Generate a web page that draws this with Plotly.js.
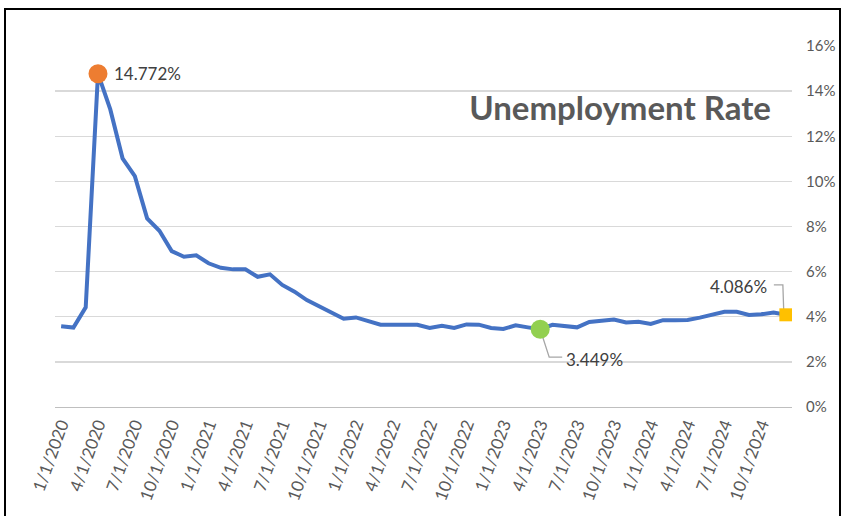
<!DOCTYPE html>
<html>
<head>
<meta charset="utf-8">
<script src="https://cdn.plot.ly/plotly-3.0.1.min.js"></script>
<style>
  html, body { margin: 0; padding: 0; background: #ffffff; width: 842px; height: 516px; overflow: hidden; }
  #frame { position: absolute; left: 4px; top: 8px; width: 837px; height: 600px; border: 2px solid #000; box-sizing: border-box; }
  #chart { position: absolute; left: 0; top: 0; width: 842px; height: 516px; }
</style>
</head>
<body>
<div id="frame"></div>
<div id="chart"></div>
<script>
// ---- data ----
const years = [2020, 2021, 2022, 2023, 2024];
const months = [];
years.forEach(function (y) { for (let m = 1; m <= 12; m++) months.push(m + '/1/' + y); });

const rates = [
  3.58, 3.52, 4.42, 14.772, 13.19, 11.02, 10.23, 8.36, 7.81, 6.91, 6.66, 6.72,
  6.37, 6.17, 6.10, 6.10, 5.77, 5.88, 5.41, 5.11, 4.74, 4.47, 4.18, 3.91,
  3.97, 3.82, 3.65, 3.64, 3.62, 3.64, 3.50, 3.60, 3.50, 3.66, 3.65, 3.50,
  3.46, 3.62, 3.53, 3.449, 3.64, 3.60, 3.53, 3.77, 3.81, 3.88, 3.75, 3.78,
  3.68, 3.85, 3.85, 3.86, 3.96, 4.11, 4.22, 4.22, 4.08, 4.11, 4.19, 4.086
];

const tickLabels = months.filter(function (d, i) { return i % 3 === 0; });
const titleText = 'Unemployment Rate';

// ---- highlighted points (from the data) ----
const iMax = rates.indexOf(Math.max.apply(null, rates));
const iMin = rates.indexOf(Math.min.apply(null, rates));
const iLast = rates.length - 1;

const boundaryVals = [];
for (let b = -0.5; b <= months.length - 0.5; b += 3) boundaryVals.push(b);

const fmt = function (v) { return v.toFixed(3) + '%'; };
const labelFont = { family: 'Lato, "Open Sans", sans-serif', size: 17, color: '#404040' };
const clear = 'rgba(0,0,0,0)';

const traces = [
  { x: months, y: rates, type: 'scatter', mode: 'lines',
    line: { color: '#4472C4', width: 4 }, hoverinfo: 'skip', showlegend: false },
  { x: [months[iMax]], y: [rates[iMax]], type: 'scatter', mode: 'markers',
    marker: { color: '#ED7D31', size: 19, symbol: 'circle' }, showlegend: false },
  { x: [months[iMin]], y: [rates[iMin]], type: 'scatter', mode: 'markers',
    marker: { color: '#92D050', size: 19, symbol: 'circle' }, showlegend: false },
  { x: [months[iLast]], y: [rates[iLast]], type: 'scatter', mode: 'markers',
    marker: { color: '#FFC000', size: 13, symbol: 'square' }, showlegend: false }
];

const layout = {
  width: 842, height: 516,
  margin: { l: 55, r: 50, t: 46, b: 109 },
  paper_bgcolor: clear, plot_bgcolor: clear,
  font: { family: 'Lato, "Open Sans", sans-serif', color: '#595959' },
  showlegend: false,
  title: {
    text: '<b>' + titleText + '</b>',
    font: { family: 'Lato, "Open Sans", sans-serif', size: 33, color: '#595959' },
    x: 771 / 842, xanchor: 'right', xref: 'container',
    y: 1 - 108 / 516, yanchor: 'middle', yref: 'container'
  },
  xaxis: {
    type: 'category', range: [-0.5, months.length - 0.5],
    tickmode: 'array', tickvals: tickLabels, ticktext: tickLabels,
    tickangle: -70, ticks: '', showgrid: false, zeroline: false,
    showline: true, linecolor: '#BFBFBF', linewidth: 1,
    tickfont: { size: 17, color: '#595959' }, fixedrange: true
  },
  xaxis2: {
    overlaying: 'x', anchor: 'y', type: 'linear',
    range: [-0.5, months.length - 0.5],
    tickmode: 'array', tickvals: boundaryVals,
    ticks: 'outside', ticklen: 5, tickcolor: '#BFBFBF', tickwidth: 1,
    showticklabels: false, showgrid: false, gridcolor: clear,
    zeroline: false, zerolinecolor: clear, showline: false
  },
  yaxis: {
    side: 'right', range: [0, 16], dtick: 2, tick0: 0, ticksuffix: '%',
    showgrid: true, gridcolor: '#D9D9D9', gridwidth: 1.3,
    zeroline: false, showline: false, ticks: '',
    ticklabelstandoff: 13,
    tickfont: { size: 15, color: '#595959' }, fixedrange: true
  },
  shapes: [
    { type: 'path', layer: 'below', xref: 'x', yref: 'y',
      xsizemode: 'pixel', ysizemode: 'pixel',
      xanchor: months[iMin], yanchor: rates[iMin],
      path: 'M0,0 L9,-28 L22,-28',
      line: { color: '#A6A6A6', width: 1.3 } },
    { type: 'path', layer: 'below', xref: 'x', yref: 'y',
      xsizemode: 'pixel', ysizemode: 'pixel',
      xanchor: months[iLast], yanchor: rates[iLast],
      path: 'M-12,30 L-3,30 L-2,0',
      line: { color: '#A6A6A6', width: 1.3 } }
  ],
  annotations: [
    { x: months[iMax], y: rates[iMax], xref: 'x', yref: 'y', text: fmt(rates[iMax]),
      showarrow: false, xanchor: 'left', yanchor: 'middle', xshift: 14, yshift: 0, font: labelFont },
    { x: months[iMin], y: rates[iMin], xref: 'x', yref: 'y', text: fmt(rates[iMin]),
      showarrow: false, xanchor: 'left', yanchor: 'middle', xshift: 24, yshift: -30, font: labelFont },
    { x: months[iLast], y: rates[iLast], xref: 'x', yref: 'y', text: fmt(rates[iLast]),
      showarrow: false, xanchor: 'right', yanchor: 'middle', xshift: -17, yshift: 28, font: labelFont }
  ]
};

Plotly.newPlot('chart', traces, layout, { staticPlot: true, displayModeBar: false });
</script>
</body>
</html>
